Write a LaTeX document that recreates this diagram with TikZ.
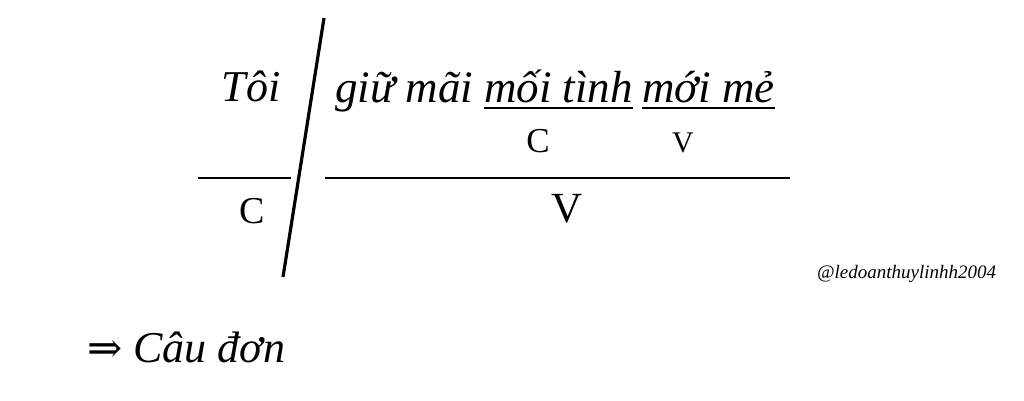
\documentclass[tikz,border=0pt]{standalone}
\usepackage{fontspec}
\setmainfont{Liberation Serif}
\newfontfamily\arrowfont{DejaVu Serif}
\begin{document}
\begin{tikzpicture}[x=1pt, y=-1pt,
		sentword/.style={inner sep=0pt, anchor=base west, font=\fontsize{45}{52}\selectfont\itshape},
		partmark/.style={inner sep=0pt, anchor=base},
		rulebar/.style={line width=2.2pt}]
		\useasboundingbox (0,0) rectangle (1024,400);
		% subject and predicate words
		\node[sentword, anchor=base, font=\fontsize{44}{52}\selectfont\itshape] (Toi) at (251, 101) {Tôi};
		\node[sentword] (GiuMai) at (335, 102) {giữ mãi};
		\node[sentword] (MoiTinh) at (484, 102) {mối tình};
		\node[sentword] (MoiMe) at (642, 102) {mới mẻ};
		% underlines of the inner clause
		\draw[line width=1.8pt] ([yshift=-6pt]MoiTinh.base west) -- ([yshift=-6pt]MoiTinh.base east);
		\draw[line width=1.8pt] ([yshift=-6pt]MoiMe.base west) -- ([yshift=-6pt]MoiMe.base east);
		% inner clause marks
		\node[partmark, font=\fontsize{35}{40}\selectfont] (C2) at (538, 152) {C};
		\node[partmark, font=\fontsize{30}{36}\selectfont] (V2) at (683, 152) {V};
		% dividing slash and rules
		\coordinate (S1) at (324, 18);
		\coordinate (S2) at (283, 277);
		\draw[line width=3.2pt] (S1) -- (S2);
		\coordinate (L1) at (198, 178);
		\coordinate (L2) at (291, 178);
		\coordinate (R1) at (325, 178);
		\coordinate (R2) at (790, 178);
		\draw[rulebar] (L1) -- (L2);
		\draw[rulebar] (R1) -- (R2);
		% main marks
		\node[partmark, font=\fontsize{38}{44}\selectfont] (C1) at (252, 223) {C};
		\node[partmark, font=\fontsize{43}{50}\selectfont] (V1) at (567, 222) {V};
		% watermark
		\node[sentword, font=\fontsize{19}{22}\selectfont\itshape] (Mark) at (817, 278) {@ledoanthuylinhh2004};
		% conclusion
		\node[partmark, anchor=base west, font=\fontsize{42}{48}\arrowfont] (Arrow) at (87, 362) {⇒};
		\node[sentword, font=\fontsize{44}{52}\selectfont\itshape] (CauDon) at (133, 362) {Câu đơn};
	\end{tikzpicture}
\end{document}
